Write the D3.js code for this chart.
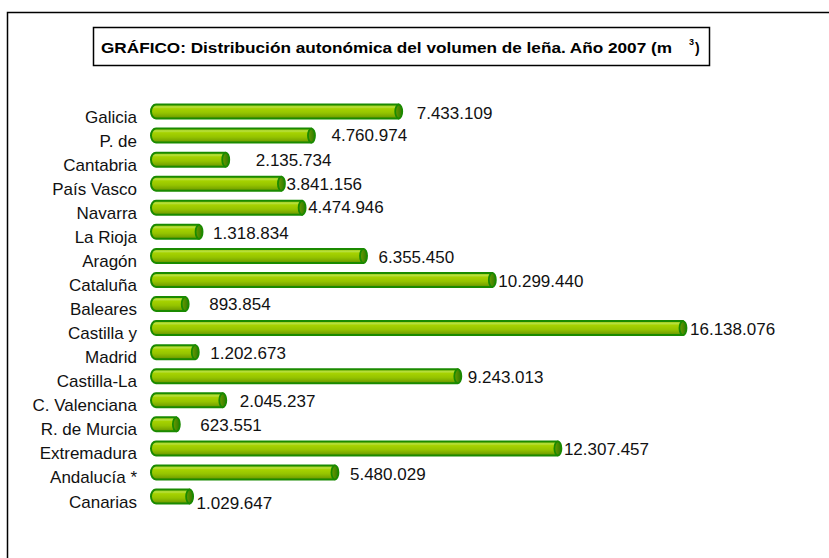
<!DOCTYPE html>
<html>
<head>
<meta charset="utf-8">
<script src="https://cdn.jsdelivr.net/npm/d3@7"></script>
<style>
  html, body { margin: 0; padding: 0; background: #fff; }
  svg { display: block; font-family: Arial, "Liberation Sans", Helvetica, sans-serif; }
</style>
</head>
<body>
<svg id="chart" width="829" height="558"></svg>
<script>
// Data
const regions = ['Galicia', 'P. de', 'Cantabria', 'País Vasco', 'Navarra', 'La Rioja', 'Aragón',
    'Cataluña', 'Baleares', 'Castilla y', 'Madrid', 'Castilla-La', 'C. Valenciana',
    'R. de Murcia', 'Extremadura', 'Andalucía *', 'Canarias'];
const volumes = [7433109, 4760974, 2135734, 3841156, 4474946, 1318834, 6355450,
    10299440, 893854, 16138076, 1202673, 9243013, 2045237,
    623551, 12307457, 5480029, 1029647];
// labels were moved by hand in the original, keep their nudges apart
const labelNudge = [[15, 1], [17, -1], [27, 0], [2, 0], [3, -1], [11, 1], [12, 1],
    [3, 1], [21, 0], [4, 1], [12, 1], [7, 1], [14, 1],
    [21, 1], [3, 1], [12, 2], [4, 6]];

const fmt = v => d3.format(',')(v).replace(/,/g, '.');

const svg = d3.select('#chart');

// outer frame (runs off the right and bottom edges)
svg.append('rect')
    .attr('x', 7.5).attr('y', 12.5)
    .attr('width', 900).attr('height', 600)
    .attr('fill', 'none')
    .attr('stroke', '#000')
    .attr('stroke-width', 1.5);

// title box
svg.append('rect')
    .attr('x', 93.5).attr('y', 27.5)
    .attr('width', 616).attr('height', 38)
    .attr('fill', '#fff')
    .attr('stroke', '#000')
    .attr('stroke-width', 1.5);

// the title is drawn wide in the original, so stretch it to its width
svg.append('text')
    .attr('x', 101).attr('y', 53)
    .attr('font-size', 14)
    .attr('font-weight', 'bold')
    .attr('textLength', 571)
    .attr('lengthAdjust', 'spacingAndGlyphs')
    .text('GRÁFICO: Distribución autonómica del volumen de leña. Año 2007 (m');
svg.append('text')
    .attr('x', 689).attr('y', 45)
    .attr('font-size', 9)
    .attr('font-weight', 'bold')
    .text('3');
svg.append('text')
    .attr('x', 695).attr('y', 53)
    .attr('font-size', 14)
    .attr('font-weight', 'bold')
    .text(')');

// scales
const x = d3.scaleLinear()
    .domain([0, d3.max(volumes)])
    .range([156, 683]);

const y = d3.scalePoint()
    .domain(regions)
    .range([111.5, 496.5]);

const barH = 14;

// cylinder gradient
const defs = svg.append('defs');
const grad = defs.append('linearGradient')
    .attr('id', 'cyl')
    .attr('x1', 0).attr('y1', 0).attr('x2', 0).attr('y2', 1);
[[0, '#8fc000'], [0.18, '#b8e040'], [0.3, '#a6d200'], [0.6, '#95c400'], [0.85, '#7aa800'], [1, '#5f8f00']]
    .forEach(([o, c]) => grad.append('stop').attr('offset', o).attr('stop-color', c));

const capGrad = defs.append('linearGradient')
    .attr('id', 'cap')
    .attr('x1', 0).attr('y1', 0).attr('x2', 1).attr('y2', 0);
capGrad.append('stop').attr('offset', 0).attr('stop-color', '#6a9c00');
capGrad.append('stop').attr('offset', 1).attr('stop-color', '#2f7a00');

const rows = regions.map((r, i) => ({ region: r, value: volumes[i], nudge: labelNudge[i] }));

const bars = svg.append('g').selectAll('g')
    .data(rows)
    .enter()
    .append('g');

// body of the cylinder, rounded on the left
bars.append('path')
    .attr('d', d => {
        const x0 = x(0), x1 = x(d.value);
        const t = y(d.region) - barH / 2, b = y(d.region) + barH / 2;
        return `M${x0},${t} L${x1},${t} L${x1},${b} L${x0},${b} A5,${barH / 2} 0 0 1 ${x0},${t} Z`;
    })
    .attr('fill', 'url(#cyl)')
    .attr('stroke', '#1a8a00')
    .attr('stroke-width', 2)
    .attr('stroke-linejoin', 'round');

// right end cap
bars.append('ellipse')
    .attr('cx', d => x(d.value))
    .attr('cy', d => y(d.region))
    .attr('rx', 3.5)
    .attr('ry', barH / 2)
    .attr('fill', 'url(#cap)')
    .attr('stroke', '#1a8a00')
    .attr('stroke-width', 1.8);

// value labels
bars.append('text')
    .attr('x', d => x(d.value) + 3 + d.nudge[0])
    .attr('y', d => y(d.region) + 6 + d.nudge[1])
    .attr('font-size', 17)
    .attr('fill', '#111')
    .text(d => fmt(d.value));

// category labels
svg.append('g').selectAll('text')
    .data(regions)
    .enter()
    .append('text')
    .attr('x', 137)
    .attr('y', d => y(d) + 11)
    .attr('text-anchor', 'end')
    .attr('font-size', 17)
    .attr('fill', '#111')
    .text(d => d);
</script>
</body>
</html>
